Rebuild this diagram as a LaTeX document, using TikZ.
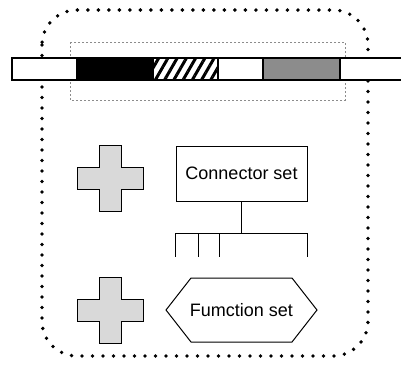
\documentclass[tikz,border=0pt]{standalone}
\usepackage{fontspec}
\setmainfont{Liberation Sans}
\usetikzlibrary{patterns.meta,shapes.symbols}

\begin{document}
\begin{tikzpicture}[x=1pt,y=-1pt,
    every node/.style={font=\fontsize{18}{20}\selectfont},
    setbox/.style={draw,line width=1pt,minimum width=131pt,minimum height=55pt},
    setsig/.style={draw,line width=1pt,signal,signal to=west and east,inner xsep=-4pt,
        signal pointer angle=104,minimum width=151pt,minimum height=64pt},
    plus/.style={draw,line width=1pt,fill=black!15},
    seg/.style={draw,line width=2pt}]
    \useasboundingbox (0,0) rectangle (401,365);

    % outer dotted frame
    \draw[line width=3.8pt,dash pattern=on 0pt off 10.5pt,line cap=round,rounded corners=35pt]
        (42,10) rectangle (368,356);

    % dashed frame round the strip
    \draw[black!45,line width=0.6pt,dash pattern=on 2pt off 2pt] (70,42) rectangle (345,100);

    % the strip
    \draw[seg,fill=white] (12,58) rectangle (77,80);
    \draw[seg,fill=black] (77,58) rectangle (153,80);
    \draw[seg,pattern={Lines[angle=60,distance=8pt,line width=3pt]}] (153,58) rectangle (218,80);
    \draw[seg,fill=white] (218,58) rectangle (263,80);
    \draw[seg,fill=black!45] (263,58) rectangle (340,80);
    \draw[seg,fill=white] (340,58) rectangle (405,80);

    % crosses
    \foreach \cy in {178.5,310}
        \draw[plus] (99,\cy-33) -- ++(22,0) -- ++(0,22) -- ++(22,0) -- ++(0,22) -- ++(-22,0)
            -- ++(0,22) -- ++(-22,0) -- ++(0,-22) -- ++(-22,0) -- ++(0,-22) -- ++(22,0) -- cycle;

    \node[setbox] (cs) at (241.5,173.5) {Connector set};
    \node[setsig] (fs) at (241.5,310) {Fumction set};

    % bus below the connector set
    \coordinate (bl) at (175,233);
    \coordinate (br) at (307,233);
    \draw[line width=1pt] (cs.south) -- (cs.south |- bl);
    \draw[line width=1pt] (bl) -- (br);
    \foreach \x in {175,198,219,307}
        \draw[line width=1pt] (\x,233) -- (\x,257);
\end{tikzpicture}
\end{document}
